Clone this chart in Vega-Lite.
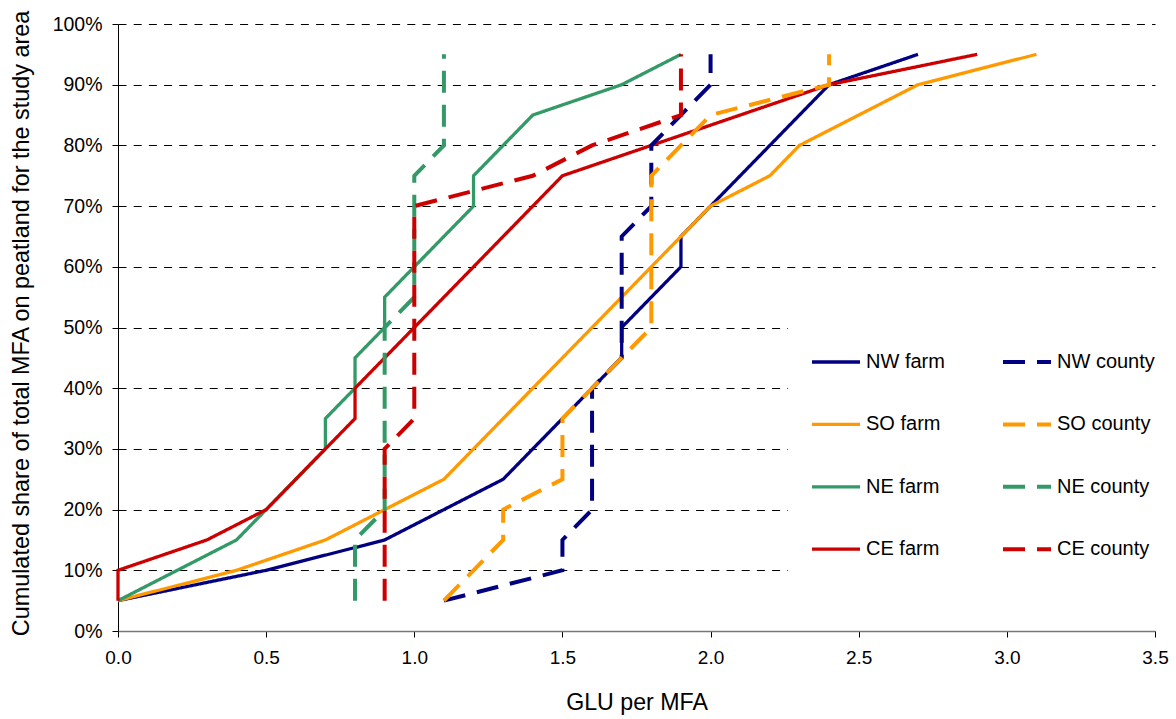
{
  "$schema": "https://vega.github.io/schema/vega-lite/v6.json",
  "width": 1037,
  "height": 607,
  "autosize": {"type": "none"},
  "padding": {"left": 118, "top": 24, "right": 21, "bottom": 88},
  "config": {
    "view": {"stroke": null},
    "font": "Liberation Sans",
    "axis": {"labelFont": "Liberation Sans", "titleFont": "Liberation Sans", "labelColor": "#000", "titleColor": "#000", "titleFontWeight": "normal"}
  },
  "data": {
    "values": [
      {"series": "NW farm", "pct": 5, "glu": 0.0},
      {"series": "NW farm", "pct": 10, "glu": 0.5},
      {"series": "NW farm", "pct": 15, "glu": 0.9},
      {"series": "NW farm", "pct": 20, "glu": 1.1},
      {"series": "NW farm", "pct": 25, "glu": 1.3},
      {"series": "NW farm", "pct": 30, "glu": 1.4},
      {"series": "NW farm", "pct": 35, "glu": 1.5},
      {"series": "NW farm", "pct": 40, "glu": 1.6},
      {"series": "NW farm", "pct": 45, "glu": 1.7},
      {"series": "NW farm", "pct": 50, "glu": 1.7},
      {"series": "NW farm", "pct": 55, "glu": 1.8},
      {"series": "NW farm", "pct": 60, "glu": 1.9},
      {"series": "NW farm", "pct": 65, "glu": 1.9},
      {"series": "NW farm", "pct": 70, "glu": 2.0},
      {"series": "NW farm", "pct": 75, "glu": 2.1},
      {"series": "NW farm", "pct": 80, "glu": 2.2},
      {"series": "NW farm", "pct": 85, "glu": 2.3},
      {"series": "NW farm", "pct": 90, "glu": 2.4},
      {"series": "NW farm", "pct": 95, "glu": 2.7},
      {"series": "SO farm", "pct": 5, "glu": 0.0},
      {"series": "SO farm", "pct": 10, "glu": 0.4},
      {"series": "SO farm", "pct": 15, "glu": 0.7},
      {"series": "SO farm", "pct": 20, "glu": 0.9},
      {"series": "SO farm", "pct": 25, "glu": 1.1},
      {"series": "SO farm", "pct": 30, "glu": 1.2},
      {"series": "SO farm", "pct": 35, "glu": 1.3},
      {"series": "SO farm", "pct": 40, "glu": 1.4},
      {"series": "SO farm", "pct": 45, "glu": 1.5},
      {"series": "SO farm", "pct": 50, "glu": 1.6},
      {"series": "SO farm", "pct": 55, "glu": 1.7},
      {"series": "SO farm", "pct": 60, "glu": 1.8},
      {"series": "SO farm", "pct": 65, "glu": 1.9},
      {"series": "SO farm", "pct": 70, "glu": 2.0},
      {"series": "SO farm", "pct": 75, "glu": 2.2},
      {"series": "SO farm", "pct": 80, "glu": 2.3},
      {"series": "SO farm", "pct": 85, "glu": 2.5},
      {"series": "SO farm", "pct": 90, "glu": 2.7},
      {"series": "SO farm", "pct": 95, "glu": 3.1},
      {"series": "NE farm", "pct": 5, "glu": 0.0},
      {"series": "NE farm", "pct": 10, "glu": 0.2},
      {"series": "NE farm", "pct": 15, "glu": 0.4},
      {"series": "NE farm", "pct": 20, "glu": 0.5},
      {"series": "NE farm", "pct": 25, "glu": 0.6},
      {"series": "NE farm", "pct": 30, "glu": 0.7},
      {"series": "NE farm", "pct": 35, "glu": 0.7},
      {"series": "NE farm", "pct": 40, "glu": 0.8},
      {"series": "NE farm", "pct": 45, "glu": 0.8},
      {"series": "NE farm", "pct": 50, "glu": 0.9},
      {"series": "NE farm", "pct": 55, "glu": 0.9},
      {"series": "NE farm", "pct": 60, "glu": 1.0},
      {"series": "NE farm", "pct": 65, "glu": 1.1},
      {"series": "NE farm", "pct": 70, "glu": 1.2},
      {"series": "NE farm", "pct": 75, "glu": 1.2},
      {"series": "NE farm", "pct": 80, "glu": 1.3},
      {"series": "NE farm", "pct": 85, "glu": 1.4},
      {"series": "NE farm", "pct": 90, "glu": 1.7},
      {"series": "NE farm", "pct": 95, "glu": 1.9},
      {"series": "CE farm", "pct": 5, "glu": 0.0},
      {"series": "CE farm", "pct": 10, "glu": 0.0},
      {"series": "CE farm", "pct": 15, "glu": 0.3},
      {"series": "CE farm", "pct": 20, "glu": 0.5},
      {"series": "CE farm", "pct": 25, "glu": 0.6},
      {"series": "CE farm", "pct": 30, "glu": 0.7},
      {"series": "CE farm", "pct": 35, "glu": 0.8},
      {"series": "CE farm", "pct": 40, "glu": 0.8},
      {"series": "CE farm", "pct": 45, "glu": 0.9},
      {"series": "CE farm", "pct": 50, "glu": 1.0},
      {"series": "CE farm", "pct": 55, "glu": 1.1},
      {"series": "CE farm", "pct": 60, "glu": 1.2},
      {"series": "CE farm", "pct": 65, "glu": 1.3},
      {"series": "CE farm", "pct": 70, "glu": 1.4},
      {"series": "CE farm", "pct": 75, "glu": 1.5},
      {"series": "CE farm", "pct": 80, "glu": 1.8},
      {"series": "CE farm", "pct": 85, "glu": 2.1},
      {"series": "CE farm", "pct": 90, "glu": 2.4},
      {"series": "CE farm", "pct": 95, "glu": 2.9},
      {"series": "NW county", "pct": 5, "glu": 1.1},
      {"series": "NW county", "pct": 10, "glu": 1.5},
      {"series": "NW county", "pct": 15, "glu": 1.5},
      {"series": "NW county", "pct": 20, "glu": 1.6},
      {"series": "NW county", "pct": 25, "glu": 1.6},
      {"series": "NW county", "pct": 30, "glu": 1.6},
      {"series": "NW county", "pct": 35, "glu": 1.6},
      {"series": "NW county", "pct": 40, "glu": 1.6},
      {"series": "NW county", "pct": 45, "glu": 1.7},
      {"series": "NW county", "pct": 50, "glu": 1.7},
      {"series": "NW county", "pct": 55, "glu": 1.7},
      {"series": "NW county", "pct": 60, "glu": 1.7},
      {"series": "NW county", "pct": 65, "glu": 1.7},
      {"series": "NW county", "pct": 70, "glu": 1.8},
      {"series": "NW county", "pct": 75, "glu": 1.8},
      {"series": "NW county", "pct": 80, "glu": 1.8},
      {"series": "NW county", "pct": 85, "glu": 1.9},
      {"series": "NW county", "pct": 90, "glu": 2.0},
      {"series": "NW county", "pct": 95, "glu": 2.0},
      {"series": "SO county", "pct": 5, "glu": 1.1},
      {"series": "SO county", "pct": 10, "glu": 1.2},
      {"series": "SO county", "pct": 15, "glu": 1.3},
      {"series": "SO county", "pct": 20, "glu": 1.3},
      {"series": "SO county", "pct": 25, "glu": 1.5},
      {"series": "SO county", "pct": 30, "glu": 1.5},
      {"series": "SO county", "pct": 35, "glu": 1.5},
      {"series": "SO county", "pct": 40, "glu": 1.6},
      {"series": "SO county", "pct": 45, "glu": 1.7},
      {"series": "SO county", "pct": 50, "glu": 1.8},
      {"series": "SO county", "pct": 55, "glu": 1.8},
      {"series": "SO county", "pct": 60, "glu": 1.8},
      {"series": "SO county", "pct": 65, "glu": 1.8},
      {"series": "SO county", "pct": 70, "glu": 1.8},
      {"series": "SO county", "pct": 75, "glu": 1.8},
      {"series": "SO county", "pct": 80, "glu": 1.9},
      {"series": "SO county", "pct": 85, "glu": 2.0},
      {"series": "SO county", "pct": 90, "glu": 2.4},
      {"series": "SO county", "pct": 95, "glu": 2.4},
      {"series": "NE county", "pct": 5, "glu": 0.8},
      {"series": "NE county", "pct": 10, "glu": 0.8},
      {"series": "NE county", "pct": 15, "glu": 0.8},
      {"series": "NE county", "pct": 20, "glu": 0.9},
      {"series": "NE county", "pct": 25, "glu": 0.9},
      {"series": "NE county", "pct": 30, "glu": 0.9},
      {"series": "NE county", "pct": 35, "glu": 0.9},
      {"series": "NE county", "pct": 40, "glu": 0.9},
      {"series": "NE county", "pct": 45, "glu": 0.9},
      {"series": "NE county", "pct": 50, "glu": 0.9},
      {"series": "NE county", "pct": 55, "glu": 1.0},
      {"series": "NE county", "pct": 60, "glu": 1.0},
      {"series": "NE county", "pct": 65, "glu": 1.0},
      {"series": "NE county", "pct": 70, "glu": 1.0},
      {"series": "NE county", "pct": 75, "glu": 1.0},
      {"series": "NE county", "pct": 80, "glu": 1.1},
      {"series": "NE county", "pct": 85, "glu": 1.1},
      {"series": "NE county", "pct": 90, "glu": 1.1},
      {"series": "NE county", "pct": 95, "glu": 1.1},
      {"series": "CE county", "pct": 5, "glu": 0.9},
      {"series": "CE county", "pct": 10, "glu": 0.9},
      {"series": "CE county", "pct": 15, "glu": 0.9},
      {"series": "CE county", "pct": 20, "glu": 0.9},
      {"series": "CE county", "pct": 25, "glu": 0.9},
      {"series": "CE county", "pct": 30, "glu": 0.9},
      {"series": "CE county", "pct": 35, "glu": 1.0},
      {"series": "CE county", "pct": 40, "glu": 1.0},
      {"series": "CE county", "pct": 45, "glu": 1.0},
      {"series": "CE county", "pct": 50, "glu": 1.0},
      {"series": "CE county", "pct": 55, "glu": 1.0},
      {"series": "CE county", "pct": 60, "glu": 1.0},
      {"series": "CE county", "pct": 65, "glu": 1.0},
      {"series": "CE county", "pct": 70, "glu": 1.0},
      {"series": "CE county", "pct": 75, "glu": 1.4},
      {"series": "CE county", "pct": 80, "glu": 1.6},
      {"series": "CE county", "pct": 85, "glu": 1.9},
      {"series": "CE county", "pct": 90, "glu": 1.9},
      {"series": "CE county", "pct": 95, "glu": 1.9}
    ]
  },
  "mark": {"type": "line", "strokeCap": "butt"},
  "encoding": {
    "x": {
      "field": "glu",
      "type": "quantitative",
      "scale": {"domain": [0, 3.5], "nice": false, "zero": false},
      "axis": {
        "title": "GLU per MFA",
        "values": [0, 0.5, 1, 1.5, 2, 2.5, 3, 3.5],
        "format": ".1f",
        "grid": false,
        "labelFlush": false,
        "labelFontSize": 19,
        "titleFontSize": 23.2,
        "domainColor": "#777",
        "domainWidth": 1.5,
        "tickColor": "#000",
        "tickSize": 6,
        "labelPadding": 11,
        "titlePadding": 24
      }
    },
    "y": {
      "field": "pct",
      "type": "quantitative",
      "scale": {"domain": [0, 100], "nice": false},
      "axis": {
        "title": "Cumulated share of total MFA on peatland for the study area",
        "values": [0, 10, 20, 30, 40, 50, 60, 70, 80, 90, 100],
        "labelExpr": "datum.value + '%'",
        "grid": true,
        "gridColor": "#000",
        "gridDash": [8, 7.2],
        "gridWidth": 1,
        "labelFontSize": 19.5,
        "titleFontSize": 23.4,
        "titleY": 299,
        "domainColor": "#000",
        "tickColor": "#000",
        "tickSize": 6,
        "labelPadding": 10,
        "titlePadding": 19
      }
    },
    "color": {
      "field": "series",
      "type": "nominal",
      "scale": {
        "domain": ["NW farm", "SO farm", "NE farm", "CE farm", "NW county", "SO county", "NE county", "CE county"],
        "range": ["#000080", "#FF9900", "#339966", "#CC0000", "#000080", "#FF9900", "#339966", "#CC0000"]
      },
      "legend": {
        "title": null,
        "orient": "none",
        "legendX": 670,
        "legendY": 285,
        "padding": 22,
        "fillColor": "white",
        "columns": 2,
        "columnPadding": 56,
        "rowPadding": 0.4,
        "clipHeight": 62,
        "symbolType": "stroke",
        "symbolSize": 2304,
        "labelFontSize": 20,
        "labelFont": "Liberation Sans",
        "labelColor": "#000",
        "labelOffset": 4,
        "labelLimit": 300
      }
    },
    "strokeDash": {
      "field": "series",
      "type": "nominal",
      "scale": {
        "domain": ["NW farm", "SO farm", "NE farm", "CE farm", "NW county", "SO county", "NE county", "CE county"],
        "range": [[1, 0], [1, 0], [1, 0], [1, 0], [22, 12], [22, 12], [22, 12], [22, 12]]
      }
    },
    "strokeWidth": {
      "field": "series",
      "type": "nominal",
      "scale": {
        "type": "ordinal",
        "domain": ["NW farm", "SO farm", "NE farm", "CE farm", "NW county", "SO county", "NE county", "CE county"],
        "range": [3.3, 3.3, 3.3, 3.3, 4, 4, 4, 4]
      }
    },
    "order": {"field": "pct", "type": "quantitative"}
  }
}
